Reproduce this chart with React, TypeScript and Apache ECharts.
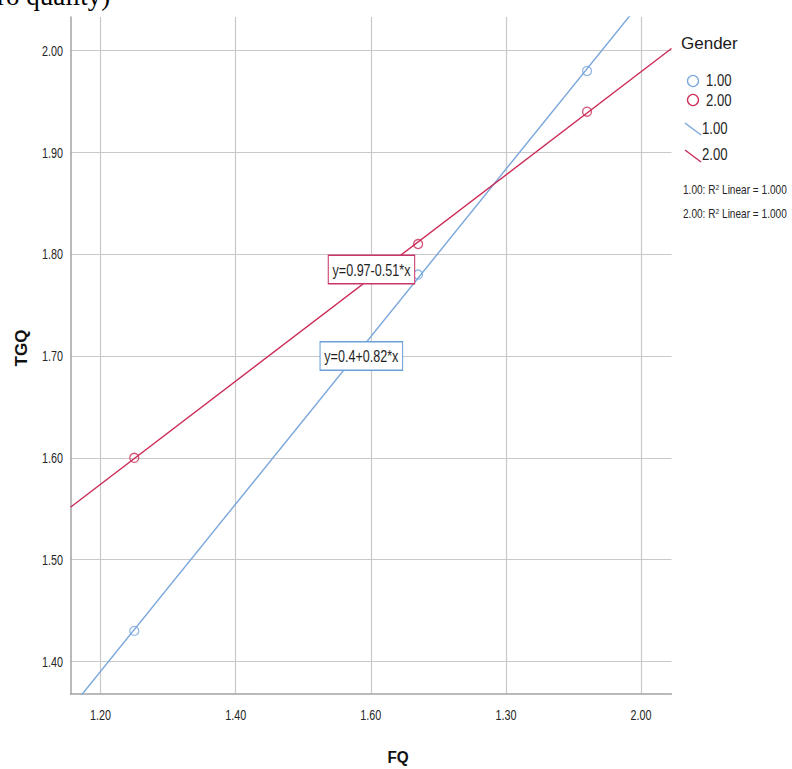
import React, { useEffect, useRef } from "react";
import * as echarts from "echarts";

// ---- data ----
const genderLevels = ["1.00", "2.00"];
const fqGender1 = [1.25, 1.67, 1.92];
const tgqGender1 = [1.43, 1.78, 1.98];
const fqGender2 = [1.25, 1.67, 1.92];
const tgqGender2 = [1.6, 1.81, 1.94];
const xTickValues = [1.2, 1.4, 1.6, 1.8, 2.0];
const xTickLabels = ["1.20", "1.40", "1.60", "1.30", "2.00"];
const yTickValues = [1.4, 1.5, 1.6, 1.7, 1.8, 1.9, 2.0];
const yTickLabels = ["1.40", "1.50", "1.60", "1.70", "1.80", "1.90", "2.00"];
const fitEquations = ["y=0.4+0.82*x", "y=0.97-0.51*x"];
const r2Texts = ["1.00: R{sup|2} Linear = 1.000", "2.00: R{sup|2} Linear = 1.000"];
const legendTitle = "Gender";
const xAxisTitle = "FQ";
const yAxisTitle = "TGQ";
const clippedHeading = "ro quality)";

const BLUE = "#79a6dc";
const RED = "#cb2b56";
const SANS = '"Liberation Sans", Arial, sans-serif';

function fit(xs: number[], ys: number[]) {
  const n = xs.length;
  const mx = xs.reduce((s, v) => s + v, 0) / n;
  const my = ys.reduce((s, v) => s + v, 0) / n;
  let sxy = 0;
  let sxx = 0;
  for (let i = 0; i < n; i++) {
    sxy += (xs[i] - mx) * (ys[i] - my);
    sxx += (xs[i] - mx) * (xs[i] - mx);
  }
  const b = sxy / sxx;
  return { a: my - b * mx, b };
}

export default function App() {
  const ref = useRef<HTMLDivElement>(null);
  useEffect(() => {
    const chart = echarts.init(ref.current!, null, { renderer: "svg" });
    const xMin = 1.1556;
    const xMax = 2.045;
    const yMin = 1.368;
    const yMax = 2.033;
    const f1 = fit(fqGender1, tgqGender1);
    const f2 = fit(fqGender2, tgqGender2);
    const lineData = (f: { a: number; b: number }) => [
      [xMin, f.a + f.b * xMin],
      [xMax, f.a + f.b * xMax],
    ];
    const option: any = {
      animation: false,
      backgroundColor: "#ffffff",
      grid: { left: 70.5, top: 17, width: 601, height: 677, outerBoundsMode: "none", containLabel: false },
      xAxis: {
        type: "value",
        min: xMin,
        max: xMax,
        axisLine: { show: true, lineStyle: { color: "#a3a3a3", width: 1.5 } },
        axisTick: { show: false, customValues: xTickValues },
        axisLabel: { show: false, customValues: xTickValues },
        splitLine: { show: true, lineStyle: { color: "#c9c9c9", width: 1.2 } },
      },
      yAxis: {
        type: "value",
        min: yMin,
        max: yMax,
        axisLine: { show: true, lineStyle: { color: "#a3a3a3", width: 1.5 } },
        axisTick: { show: false, customValues: yTickValues },
        axisLabel: { show: false, customValues: yTickValues },
        splitLine: { show: true, lineStyle: { color: "#c9c9c9", width: 1.2 } },
      },
      series: [
        {
          name: genderLevels[0] + " fit",
          type: "line",
          data: lineData(f1),
          symbol: "none",
          lineStyle: { color: BLUE, width: 1.4 },
          z: 2,
        },
        {
          name: genderLevels[1] + " fit",
          type: "line",
          data: lineData(f2),
          symbol: "none",
          lineStyle: { color: RED, width: 1.4 },
          z: 2,
        },
        {
          name: genderLevels[0],
          type: "scatter",
          data: fqGender1.map((x, i) => [x, tgqGender1[i]]),
          symbol: "circle",
          symbolSize: 9,
          itemStyle: { color: "rgba(255,255,255,0)", borderColor: BLUE, borderWidth: 1.3 },
          z: 3,
        },
        {
          name: genderLevels[1],
          type: "scatter",
          data: fqGender2.map((x, i) => [x, tgqGender2[i]]),
          symbol: "circle",
          symbolSize: 9,
          itemStyle: { color: "rgba(255,255,255,0)", borderColor: RED, borderWidth: 1.3 },
          z: 3,
        },
      ],
    };
    chart.setOption(option);

    const px = (x: number, y: number) => chart.convertToPixel({ gridIndex: 0 }, [x, y]) as number[];
    const pBlue = px(1.586, 1.7);
    const pRed = px(1.601, 1.785);

    const narrowText = (
      text: string,
      x: number,
      y: number,
      size: number,
      scaleX: number,
      align: string,
      extra: any = {}
    ) => ({
      type: "text",
      x,
      y,
      scaleX,
      z: 40,
      style: { text, fontFamily: SANS, fontSize: size, fill: "#262626", align, verticalAlign: "middle", ...extra },
    });

    const boxText = (text: string, p: number[], border: string) =>
      narrowText(text, p[0], p[1], 17, 0.74, "center", {
        backgroundColor: "#ffffff",
        borderColor: border,
        borderWidth: 1.4,
        padding: [5, 5, 5, 5],
        fill: "#1e1e1e",
      });

    const xLabelEls = xTickValues.map((v, i) => {
      const p = px(v, yMin);
      return narrowText(xTickLabels[i], p[0], p[1] + 21, 15, 0.72, "center");
    });
    const yLabelEls = yTickValues.map((v, i) => {
      const p = px(xMin, v);
      return narrowText(yTickLabels[i], p[0] - 7.5, p[1], 15, 0.72, "right");
    });

    const r2Rich = {
      sup: { fontSize: 8, fontFamily: SANS, fill: "#262626", verticalAlign: "top", padding: [0, 0, 6, 0] },
    };

    chart.setOption({
      graphic: {
        elements: [
          {
            type: "text",
            x: -3,
            y: -4,
            style: {
              text: clippedHeading,
              fontFamily: '"Liberation Serif", "Times New Roman", serif',
              fontSize: 27,
              fill: "#000",
              verticalAlign: "middle",
              align: "left",
            },
          },
          ...xLabelEls,
          ...yLabelEls,
          boxText(fitEquations[1], pRed, "#c9366a"),
          boxText(fitEquations[0], pBlue, "#6c9fd8"),
          {
            type: "text",
            x: 21,
            y: 348,
            rotation: Math.PI / 2,
            style: {
              text: yAxisTitle,
              fontFamily: SANS,
              fontSize: 17,
              fontWeight: "bold",
              fill: "#111",
              align: "center",
              verticalAlign: "middle",
            },
          },
          {
            type: "text",
            x: 398,
            y: 757,
            scaleX: 0.9,
            style: {
              text: xAxisTitle,
              fontFamily: SANS,
              fontSize: 17,
              fontWeight: "bold",
              fill: "#111",
              align: "center",
              verticalAlign: "middle",
            },
          },
          {
            type: "text",
            x: 681,
            y: 43,
            style: { text: legendTitle, fontFamily: SANS, fontSize: 17, fill: "#1a1a1a", verticalAlign: "middle", align: "left" },
          },
          { type: "circle", shape: { cx: 693, cy: 81, r: 5.5 }, style: { fill: "none", stroke: BLUE, lineWidth: 1.3 } },
          narrowText(genderLevels[0], 706, 81, 16, 0.82, "left"),
          { type: "circle", shape: { cx: 693, cy: 100, r: 5.5 }, style: { fill: "none", stroke: RED, lineWidth: 1.3 } },
          narrowText(genderLevels[1], 706, 101, 16, 0.82, "left"),
          { type: "line", shape: { x1: 685, y1: 123, x2: 701, y2: 135 }, style: { stroke: BLUE, lineWidth: 1.4 } },
          narrowText(genderLevels[0], 702, 129, 16, 0.82, "left"),
          { type: "line", shape: { x1: 685, y1: 150, x2: 701, y2: 162 }, style: { stroke: RED, lineWidth: 1.4 } },
          narrowText(genderLevels[1], 702, 155, 16, 0.82, "left"),
          narrowText(r2Texts[0], 683, 190, 12, 0.84, "left", { rich: r2Rich }),
          narrowText(r2Texts[1], 683, 214, 12, 0.84, "left", { rich: r2Rich }),
        ],
      },
    });

    return () => chart.dispose();
  }, []);
  return <div ref={ref} style={{ position: "absolute", left: 0, top: 0, width: 792, height: 769 }} />;
}
